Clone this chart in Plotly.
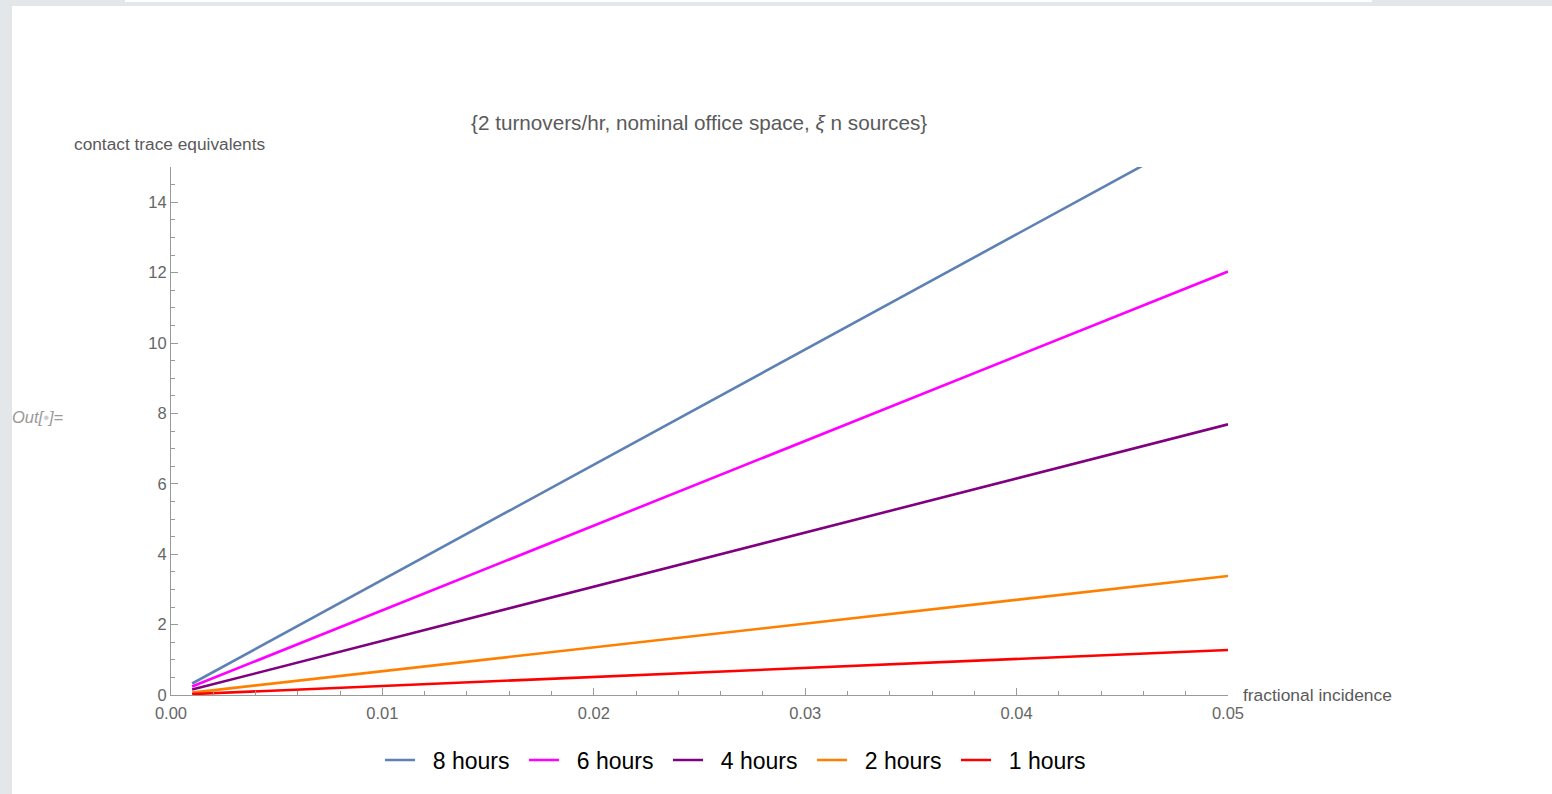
import plotly.graph_objects as go

# Fractional incidence sampled at the ends of the straight-line curves
incidence = [0.001, 0.05]

# Contact trace equivalents for each exposure duration
hours_8 = [0.327, 16.36]
hours_6 = [0.241, 12.03]
hours_4 = [0.154, 7.69]
hours_2 = [0.068, 3.38]
hours_1 = [0.026, 1.28]

series_names = ["8 hours", "6 hours", "4 hours", "2 hours", "1 hours"]
series_values = [hours_8, hours_6, hours_4, hours_2, hours_1]
series_colors = ["#5E81B5", "#FF00FF", "#800080", "#FF8000", "#FF0000"]

x_ticks = [0.0, 0.01, 0.02, 0.03, 0.04, 0.05]
x_tick_labels = ["0.00", "0.01", "0.02", "0.03", "0.04", "0.05"]
y_ticks = [0, 2, 4, 6, 8, 10, 12, 14]

W, H = 1552, 794
L, R, T, B = 171, 1228, 167, 695

fig = go.Figure()
for name, vals, col in zip(series_names, series_values, series_colors):
    # two no-break spaces widen the gap between the legend swatch and its label
    fig.add_trace(go.Scatter(x=incidence, y=vals, mode="lines", name="\u00a0\u00a0" + name,
                             line=dict(color=col, width=2.6)))

def px(x):
    return (x - L) / (R - L)

def py(y):
    return (B - y) / (B - T)

axis_gray = "#9a9a9a"
label_gray = "#666666"
font_family = "Liberation Sans, Arial, sans-serif"

shapes = [
    # notebook frame strips
    dict(type="rect", xref="paper", yref="paper", x0=px(0), x1=px(12), y0=py(0), y1=py(H),
         fillcolor="#e4e7ea", line_width=0, layer="below"),
    dict(type="rect", xref="paper", yref="paper", x0=px(0), x1=px(W), y0=py(0), y1=py(6),
         fillcolor="#e4e7ea", line_width=0, layer="below"),
    dict(type="rect", xref="paper", yref="paper", x0=px(125), x1=px(1372), y0=py(0), y1=py(2),
         fillcolor="#ffffff", line_width=0, layer="below"),
]

annotations = [
    dict(text="{2 turnovers/hr, nominal office space, <i>ξ</i> n sources}",
         xref="paper", yref="paper", x=px(699), y=py(122), showarrow=False,
         xanchor="center", yanchor="middle", font=dict(size=20.7, color="#5a5a5a")),
    dict(text="contact trace equivalents", xref="paper", yref="paper",
         x=px(170), y=py(144), showarrow=False, xanchor="center", yanchor="middle",
         font=dict(size=17.3, color="#5a5a5a")),
    dict(text="fractional incidence", xref="paper", yref="paper",
         x=px(1241), y=py(695), showarrow=False, xanchor="left", yanchor="middle",
         font=dict(size=17.4, color="#5a5a5a")),
    dict(text="<i>Out[<span style='color:#cccccc'>•</span>]=</i>", xref="paper", yref="paper",
         x=px(10), y=py(417), showarrow=False, xanchor="left", yanchor="middle",
         font=dict(size=16.5, color="#999999")),
]

fig.update_layout(
    width=W, height=H,
    margin=dict(l=L, r=W - R, t=T, b=H - B, autoexpand=False),
    paper_bgcolor="white", plot_bgcolor="white",
    font=dict(family=font_family),
    showlegend=True,
    legend=dict(orientation="h", x=px(380), y=py(760), xanchor="left", yanchor="middle",
                font=dict(size=23, color="#000000"), itemwidth=30,
                entrywidth=99, entrywidthmode="pixels",
                bgcolor="rgba(0,0,0,0)"),
    shapes=shapes,
    annotations=annotations,
    xaxis=dict(range=[0, 0.05], tickvals=x_ticks, ticktext=x_tick_labels,
               showgrid=False, zeroline=False, showline=True, linecolor=axis_gray, linewidth=1,
               ticks="inside", ticklen=7, tickcolor=axis_gray, tickwidth=1,
               ticklabelstandoff=3,
               minor=dict(dtick=0.002, ticks="inside", ticklen=4, tickcolor=axis_gray, showgrid=False),
               tickfont=dict(size=16.5, color=label_gray), fixedrange=True),
    yaxis=dict(range=[0, 15], tickvals=y_ticks,
               showgrid=False, zeroline=False, showline=True, linecolor=axis_gray, linewidth=1,
               ticks="inside", ticklen=7, tickcolor=axis_gray, tickwidth=1,
               minor=dict(dtick=0.5, ticks="inside", ticklen=4, tickcolor=axis_gray, showgrid=False),
               tickfont=dict(size=16.5, color=label_gray), fixedrange=True),
)

fig.write_html("out.html", config={"displayModeBar": False})
